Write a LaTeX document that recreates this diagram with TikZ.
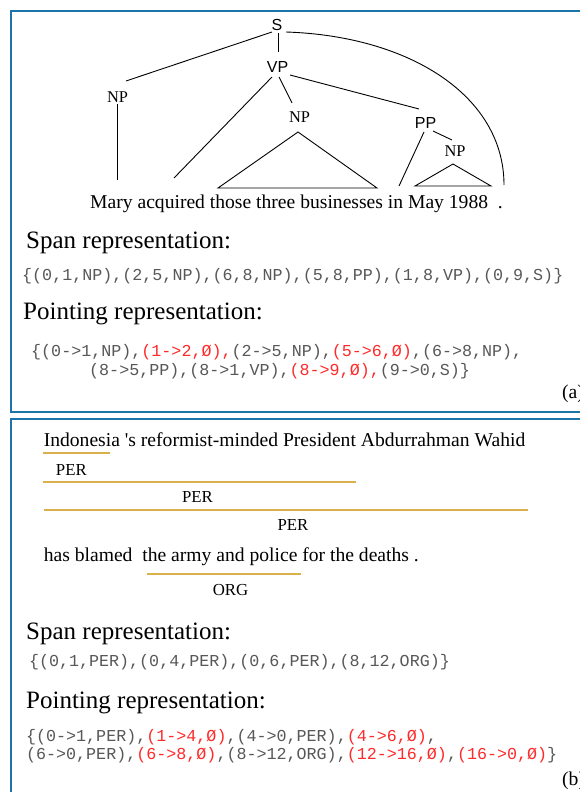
\documentclass[tikz,border=0pt]{standalone}
\usepackage{fontspec}
\setmainfont{Liberation Serif}
\newfontfamily\sansf{Liberation Sans}
\newfontfamily\monof{Liberation Mono}
\newfontfamily\serifraw{Liberation Serif}[Ligatures=TeXOff]
\definecolor{framec}{HTML}{1B75A8}
\definecolor{goldc}{HTML}{D9B04A}
\definecolor{codegray}{HTML}{585858}
\definecolor{redc}{HTML}{FF2A2A}
\begin{document}
\begin{tikzpicture}[x=1pt,y=-1pt,
  frame/.style={draw=framec,line width=2.6pt},
  tl/.style={line width=0.9pt},
  sl/.style={inner sep=0pt,font=\sansf\fontsize{16}{18}\selectfont},
  nl/.style={inner sep=0pt,font=\fontsize{16.4}{18}\selectfont},
  sent/.style={inner sep=0pt,anchor=base west,font=\fontsize{19.6}{22}\selectfont},
  head/.style={inner sep=0pt,anchor=base west,font=\fontsize{25}{28}\selectfont},
  code/.style={inner sep=0pt,anchor=west,text=codegray,font=\monof\fontsize{16.7}{18}\selectfont},
  ent/.style={inner sep=0pt,anchor=base,font=\fontsize{16.8}{18}\selectfont},
  ul/.style={draw=goldc,line width=2.2pt}]
\useasboundingbox (0,0) rectangle (580,792);
\fill[white] (0,0) rectangle (580,792);
% frames
\draw[frame] (11,11) rectangle (620,412);
\draw[frame] (11,419) rectangle (620,830);

% ---------- (a) tree ----------
\node[sl] (S) at (277,25) {S};
\node[sl] (VP) at (277.5,66.5) {VP};
\node[nl] (NP1) at (117.5,97.5) {NP};
\node[nl] (NPm) at (299.5,117) {NP};
\node[sl] (PP) at (425.5,122.5) {PP};
\node[nl] (NPs) at (455,151) {NP};
\node[sent] (sen) at (90,208) {Mary acquired those three businesses in May 1988\ \ .};

\coordinate (wMary) at (117.5,180);
\coordinate (wAcq) at (174,178);
\coordinate (wIn) at (399,186);
\coordinate (wEnd) at (504,185);
\coordinate (t1l) at (218,188);
\coordinate (t1r) at (377,188);
\coordinate (t2l) at (415,186);
\coordinate (t2r) at (491,186);

\draw[tl] ([shift={(-5,7)}]S.center) -- ([shift={(8.5,-16.5)}]NP1.center);
\draw[tl] ([shift={(1,8)}]S.center) -- ([shift={(0.5,-14.5)}]VP.center);
\draw[tl] ([shift={(9,7)}]S.center) .. controls (410,36) and (504,96) .. (wEnd);
\draw[tl] ([shift={(0,6.5)}]NP1.center) -- (wMary);
\draw[tl] ([shift={(-5.5,10.5)}]VP.center) -- (wAcq);
\draw[tl] ([shift={(1.5,10.5)}]VP.center) -- ([shift={(-7.5,-14)}]NPm.center);
\draw[tl] ([shift={(12.5,8.5)}]VP.center) -- ([shift={(-6.5,-13.5)}]PP.center);
\draw[tl] (t1l) -- ([shift={(-1.5,15)}]NPm.center) -- (t1r) -- cycle;
\draw[tl] ([shift={(-1.5,9.5)}]PP.center) -- (wIn);
\draw[tl] ([shift={(7.5,8.5)}]PP.center) -- ([shift={(-3,-11)}]NPs.center);
\draw[tl] (t2l) -- ([shift={(-2,13)}]NPs.center) -- (t2r) -- cycle;

% ---------- (a) representations ----------
\node[head] (spanA) at (26,248) {Span representation:};
\node[code] (spanAl) at (22,276) {\{(0,1,NP),(2,5,NP),(6,8,NP),(5,8,PP),(1,8,VP),(0,9,S)\}};
\node[head] (pointA) at (23,319) {Pointing representation:};
\node[code] (pA1) at (31,352) {\{(0->1,NP),\textcolor{redc}{(1->2,Ø),}(2->5,NP),\textcolor{redc}{(5->6,Ø)},(6->8,NP),};
\node[code] (pA2) at (89,371) {(8->5,PP),(8->1,VP),\textcolor{redc}{(8->9,Ø),}(9->0,S)\}};
\node[sent] (labA) at (562,398) {(a)};

% ---------- (b) entities ----------
\node[sent] (l1) at (43.6,446) {Indonesia {\serifraw '}s reformist-minded President Abdurrahman Wahid};
\coordinate (u1a) at (42.5,453.3);
\coordinate (u1b) at (110,453.3);
\coordinate (u2a) at (42.5,482.3);
\coordinate (u2b) at (356,482.3);
\coordinate (u3a) at (43.6,510);
\coordinate (u3b) at (528,510);
\draw[ul] (u1a) -- (u1b);
\draw[ul] (u2a) -- (u2b);
\draw[ul] (u3a) -- (u3b);
\node[ent] (per1) at (71.4,475) {PER};
\node[ent] (per2) at (197.5,502.5) {PER};
\node[ent] (per3) at (293,530.5) {PER};
\node[sent] (l2) at (43.6,561) {has blamed\ \ the army and police for the deaths .};
\coordinate (u4a) at (146.8,574);
\coordinate (u4b) at (301.4,574);
\draw[ul] (u4a) -- (u4b);
\node[ent] (org) at (230.6,595) {ORG};

% ---------- (b) representations ----------
\node[head] (spanB) at (26,639) {Span representation:};
\node[code] (spanBl) at (28.8,661.7) {\{(0,1,PER),(0,4,PER),(0,6,PER),(8,12,ORG)\}};
\node[head] (pointB) at (26,708) {Pointing representation:};
\node[code] (pB1) at (25.9,737) {\{(0->1,PER),\textcolor{redc}{(1->4,Ø)},(4->0,PER),\textcolor{redc}{(4->6,Ø)},};
\node[code] (pB2) at (25.9,755) {(6->0,PER),\textcolor{redc}{(6->8,Ø)},(8->12,ORG),\textcolor{redc}{(12->16,Ø)},\textcolor{redc}{(16->0,Ø)}\}};
\node[sent] (labB) at (562,785) {(b)};
\end{tikzpicture}
\end{document}
